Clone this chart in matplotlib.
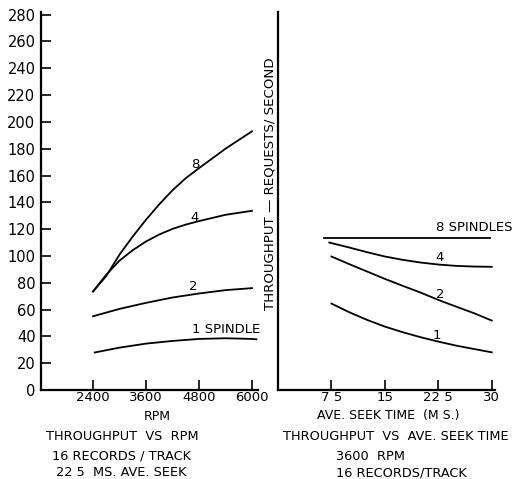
import matplotlib
matplotlib.use("Agg")
import matplotlib.pyplot as plt

# ---- data: left panel (throughput vs RPM) ----
rpm_fine = [2400, 2700, 3000, 3300, 3600, 3900, 4200, 4500, 4800, 5400, 6000]
rpm_8 = [73.5, 85, 101, 114.5, 127, 138.5, 149, 158, 165.5, 180, 193]
rpm_4 = [73.5, 86, 96.5, 104.3, 110.8, 116, 120.2, 123.4, 126, 130.7, 133.7]
rpm = [2400, 3000, 3600, 4200, 4800, 5400, 6000]
rpm_2 = [55, 60.5, 65, 69, 72, 74.5, 76]
rpm_1_x = [2440, 3000, 3600, 4200, 4800, 5400, 6000, 6100]
rpm_1 = [28, 31.6, 34.6, 36.6, 38.1, 38.6, 38.1, 37.8]

# ---- data: right panel (throughput vs seek time) ----
seek = [7.5, 10, 12.5, 15, 17.5, 20, 22.5, 25, 27.5, 30]
seek_4_x = [7.2, 10, 12.5, 15, 17.5, 20, 22.5, 25, 27.5, 30]
seek_8_x = [6.5, 29.8]
seek_8 = [113.3, 113.3]
seek_4 = [110, 106.3, 102.8, 99.6, 97.1, 95.1, 93.6, 92.6, 92.1, 91.9]
seek_2 = [99.6, 93.9, 88.4, 82.9, 77.7, 72.7, 67.2, 62.2, 57.3, 51.8]
seek_1 = [64.5, 58, 52.3, 47.3, 43.1, 39.4, 36.1, 33.1, 30.6, 28.1]

yticks = list(range(0, 281, 20))
rpm_ticks = [2400, 3600, 4800, 6000]
rpm_ticklabels = ["2400", "3600", "4800", "6000"]
seek_ticks = [7.5, 15, 22.5, 30]
seek_ticklabels = ["7 5", "15", "22 5", "30"]

W, H = 516, 479
fig = plt.figure(figsize=(W / 100, H / 100), dpi=100)
fig.patch.set_facecolor("white")

def px_rect(x0, y0, x1, y1):
    return [x0 / W, 1 - y1 / H, (x1 - x0) / W, (y1 - y0) / H]

axL = fig.add_axes(px_rect(41, 12, 258, 390))
axR = fig.add_axes(px_rect(278, 12, 495, 390))

lw = 1.3
for ax in (axL, axR):
    for s in ("top", "right"):
        ax.spines[s].set_visible(False)
    for s in ("left", "bottom"):
        ax.spines[s].set_linewidth(1.6)
    ax.set_ylim(0, 282)
    ax.tick_params(axis="y", direction="in", length=7, width=1.2, pad=4)
    ax.tick_params(axis="x", direction="in", length=7, width=1.2, pad=1)

axL.set_xlim(1223, 6136)
axR.set_xlim(0.0, 30.45)

axL.plot(rpm_fine, rpm_8, color="black", lw=lw)
axL.plot(rpm_fine, rpm_4, color="black", lw=lw)
axL.plot(rpm, rpm_2, color="black", lw=lw)
axL.plot(rpm_1_x, rpm_1, color="black", lw=lw)

axR.plot(seek_8_x, seek_8, color="black", lw=lw)
axR.plot(seek_4_x, seek_4, color="black", lw=lw)
axR.plot(seek, seek_2, color="black", lw=lw)
axR.plot(seek, seek_1, color="black", lw=lw)

axL.set_yticks(yticks)
axL.set_yticklabels([str(v) for v in yticks], fontsize=10.5)
axL.set_xticks(rpm_ticks)
axL.set_xticklabels(rpm_ticklabels, fontsize=9.5)
axR.set_yticks([])
axR.set_xticks(seek_ticks)
axR.set_xticklabels(seek_ticklabels, fontsize=9.5)

tk = dict(color="black", fontsize=9.5, clip_on=False)
axL.text(4709, 168, "8", ha="center", va="center", **tk)
axL.text(4709, 128.5, "4", ha="center", va="center", **tk)
axL.text(4664, 77, "2", ha="center", va="center", **tk)
axL.text(4641, 45, "1 SPINDLE", ha="left", va="center", **tk)

axR.text(22.15, 121, "8 SPINDLES", ha="left", va="center", **tk)
axR.text(22.7, 99, "4", ha="center", va="center", **tk)
axR.text(22.7, 71, "2", ha="center", va="center", **tk)
axR.text(22.3, 41, "1", ha="center", va="center", **tk)

def ftext(x, y, s, ha="center", size=9.3, **kw):
    fig.text(x / W, 1 - y / H, s, ha=ha, va="center", fontsize=size, **kw)

ftext(270, 184, "THROUGHPUT — REQUESTS/ SECOND", rotation=90, size=9.6)
ftext(157, 416, "RPM", size=9)
ftext(122, 437, "THROUGHPUT  VS  RPM")
ftext(122, 456, "16 RECORDS / TRACK")
ftext(121, 473, "22 5  MS. AVE. SEEK")
ftext(388, 416, "AVE. SEEK TIME  (M S.)", size=9)
ftext(396, 437, "THROUGHPUT  VS  AVE. SEEK TIME")
ftext(336, 456, "3600  RPM", ha="left")
ftext(336, 473, "16 RECORDS/TRACK", ha="left")

fig.savefig("out.png", dpi=100, facecolor="white")
